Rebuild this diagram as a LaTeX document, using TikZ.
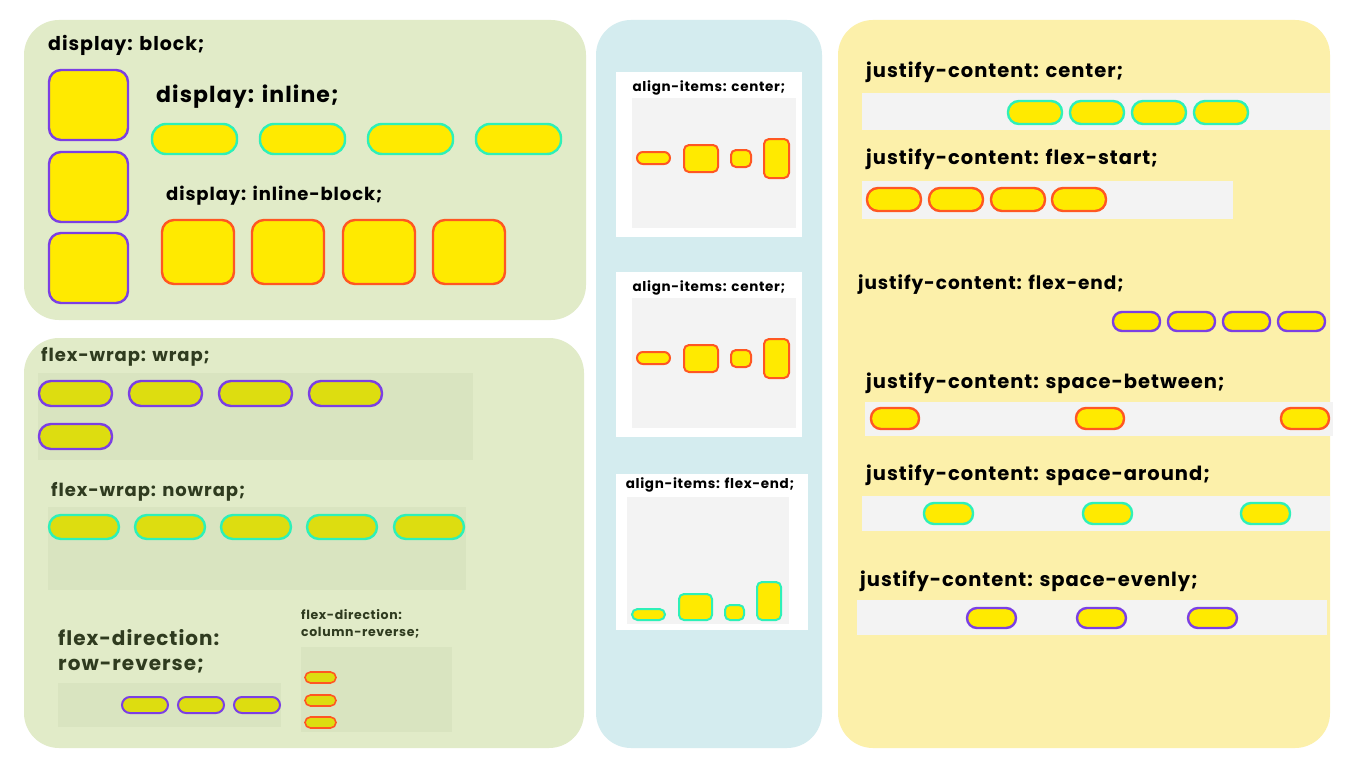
\documentclass[tikz,border=0pt]{standalone}
\usepackage{fontspec}
\setmainfont{Poppins}[LetterSpace=5]
\definecolor{pgreen}{HTML}{E1EBC8}
\definecolor{pblue}{HTML}{D4ECEF}
\definecolor{pyel}{HTML}{FCF0AA}
\definecolor{cgreen}{HTML}{D9E4C0}
\definecolor{strip}{HTML}{F3F3F3}
\definecolor{purp}{HTML}{7B3FE4}
\definecolor{cyanb}{HTML}{2EF0B8}
\definecolor{oran}{HTML}{FF5722}
\definecolor{yel}{HTML}{FFEA00}
\definecolor{olive}{HTML}{DDDD10}
\definecolor{dgreen}{HTML}{2F3B1F}
\tikzset{
  panel/.style={rounded corners=35pt},
  it/.style={line width=2.4pt,fill=yel},
  pu/.style={it,draw=purp}, cy/.style={it,draw=cyanb}, ora/.style={it,draw=oran},
  lbl/.style={anchor=west,inner sep=0pt,font=\bfseries},
}
\newcommand\bx[5]{\draw[#5] (#1,#2) rectangle (#3,#4);}
\begin{document}
\begin{tikzpicture}[x=1pt,y=-1pt]
\useasboundingbox[fill=white] (0,0) rectangle (1351,760);
% panels
\fill[pgreen,panel] (24,20) rectangle (586,320);
\fill[pgreen,panel] (24,338) rectangle (584,748);
\fill[pblue,panel] (596,20) rectangle (822,748);
\fill[pyel,panel] (838,20) rectangle (1330,748);
% top-left
\node[lbl,font=\bfseries\fontsize{19}{22}\selectfont] (t1) at (48,45) {display: block;};
\foreach \y in {70,152,233}{\bx{49}{\y}{128}{\y+70}{pu,rounded corners=12pt}}
\node[lbl,font=\bfseries\fontsize{22}{26}\selectfont] (t2) at (156,97) {display: inline;};
\foreach \x in {152,260,368,476}{\bx{\x}{124}{\x+85}{154}{cy,rounded corners=14pt}}
\node[lbl,font=\bfseries\fontsize{18}{22}\selectfont] (t3) at (166,196) {display: inline-block;};
\foreach \x in {162,252,343,433}{\bx{\x}{220}{\x+72}{284}{ora,rounded corners=12pt}}
% bottom-left
\begin{scope}[every node/.append style={text=dgreen}]
\node[lbl,font=\bfseries\fontsize{18}{22}\selectfont] (t4) at (41,357) {flex-wrap: wrap;};
\fill[cgreen] (38,373) rectangle (473,460);
\foreach \x in {39,129,219,309}{\bx{\x}{381}{\x+73}{406}{pu,fill=olive,rounded corners=12pt}}
\bx{39}{424}{112}{449}{pu,fill=olive,rounded corners=12pt}
\node[lbl,font=\bfseries\fontsize{18}{22}\selectfont] (t5) at (51,492) {flex-wrap: nowrap;};
\fill[cgreen] (48,507) rectangle (466,590);
\foreach \x in {49,135,221,307,394}{\bx{\x}{515}{\x+70}{539}{cy,fill=olive,rounded corners=12pt}}
\node[lbl,font=\bfseries\fontsize{20}{25}\selectfont,align=left,anchor=north west] (t6) at (58,629) {flex-direction:\\row-reverse;};
\fill[cgreen] (58,683) rectangle (281,727);
\foreach \x in {122,178,234}{\bx{\x}{697}{\x+46}{713}{pu,fill=olive,line width=2pt,rounded corners=8pt}}
\node[lbl,font=\bfseries\fontsize{12.5}{17}\selectfont,align=left,anchor=north west] (t7) at (301,609) {flex-direction:\\column-reverse;};
\fill[cgreen] (301,647) rectangle (452,732);
\foreach \y in {672,695,717}{\bx{305}{\y}{336}{\y+11}{ora,fill=olive,line width=1.6pt,rounded corners=5.5pt}}
\end{scope}
% middle
\foreach \o in {0,200}{
  \fill[white] (616,72+\o) rectangle (802,237+\o);
  \node[font=\bfseries\fontsize{13.5}{16}\selectfont] at (709,88+\o) {align-items: center;};
  \fill[strip] (632,98+\o) rectangle (796,228+\o);
  \bx{637}{152+\o}{670}{164+\o}{ora,line width=2pt,rounded corners=6pt}
  \bx{684}{145+\o}{718}{172+\o}{ora,line width=2pt,rounded corners=5pt}
  \bx{731}{150+\o}{751}{167+\o}{ora,line width=2pt,rounded corners=5pt}
  \bx{764}{139+\o}{789}{178+\o}{ora,line width=2pt,rounded corners=5pt}
}
\fill[white] (616,474) rectangle (808,630);
\node (t8) [font=\bfseries\fontsize{13.5}{16}\selectfont] at (710,485) {align-items: flex-end;};
\fill[strip] (627,497) rectangle (789,624);
\bx{632}{609}{665}{620}{cy,line width=2pt,rounded corners=5.5pt}
\bx{679}{594}{712}{620}{cy,line width=2pt,rounded corners=5pt}
\bx{725}{605}{744}{620}{cy,line width=2pt,rounded corners=5pt}
\bx{757}{582}{781}{620}{cy,line width=2pt,rounded corners=5pt}
% right
\tikzset{jl/.style={lbl,font=\bfseries\fontsize{19.5}{22}\selectfont}}
\node[jl] at (866,72) {justify-content: center;};
\fill[strip] (862,93) rectangle (1330,130);
\foreach \x in {1008,1070,1132,1194}{\bx{\x}{101}{\x+54}{124}{cy,rounded corners=11pt}}
\node[jl] at (866,159) {justify-content: flex-start;};
\fill[strip] (862,181) rectangle (1233,219);
\foreach \x in {867,929,991,1052}{\bx{\x}{188}{\x+54}{211}{ora,rounded corners=11pt}}
\node[jl,font=\bfseries\fontsize{18.5}{22}\selectfont] at (858,285) {justify-content: flex-end;};
\foreach \x in {1113,1168,1223,1278}{\bx{\x}{312}{\x+47}{331}{pu,rounded corners=9pt}}
\node[jl] at (866,383) {justify-content: space-between;};
\fill[strip] (865,402) rectangle (1333,436);
\foreach \x in {871,1076,1281}{\bx{\x}{408}{\x+48}{429}{ora,rounded corners=10pt}}
\node[jl] at (866,475) {justify-content: space-around;};
\fill[strip] (862,496) rectangle (1330,531);
\foreach \x in {924,1083,1241}{\bx{\x}{503}{\x+49}{524}{cy,rounded corners=10pt}}
\node[jl] at (860,581) {justify-content: space-evenly;};
\fill[strip] (857,600) rectangle (1327,635);
\foreach \x in {967,1077,1188}{\bx{\x}{608}{\x+49}{628}{pu,rounded corners=10pt}}
\end{tikzpicture}
\end{document}
